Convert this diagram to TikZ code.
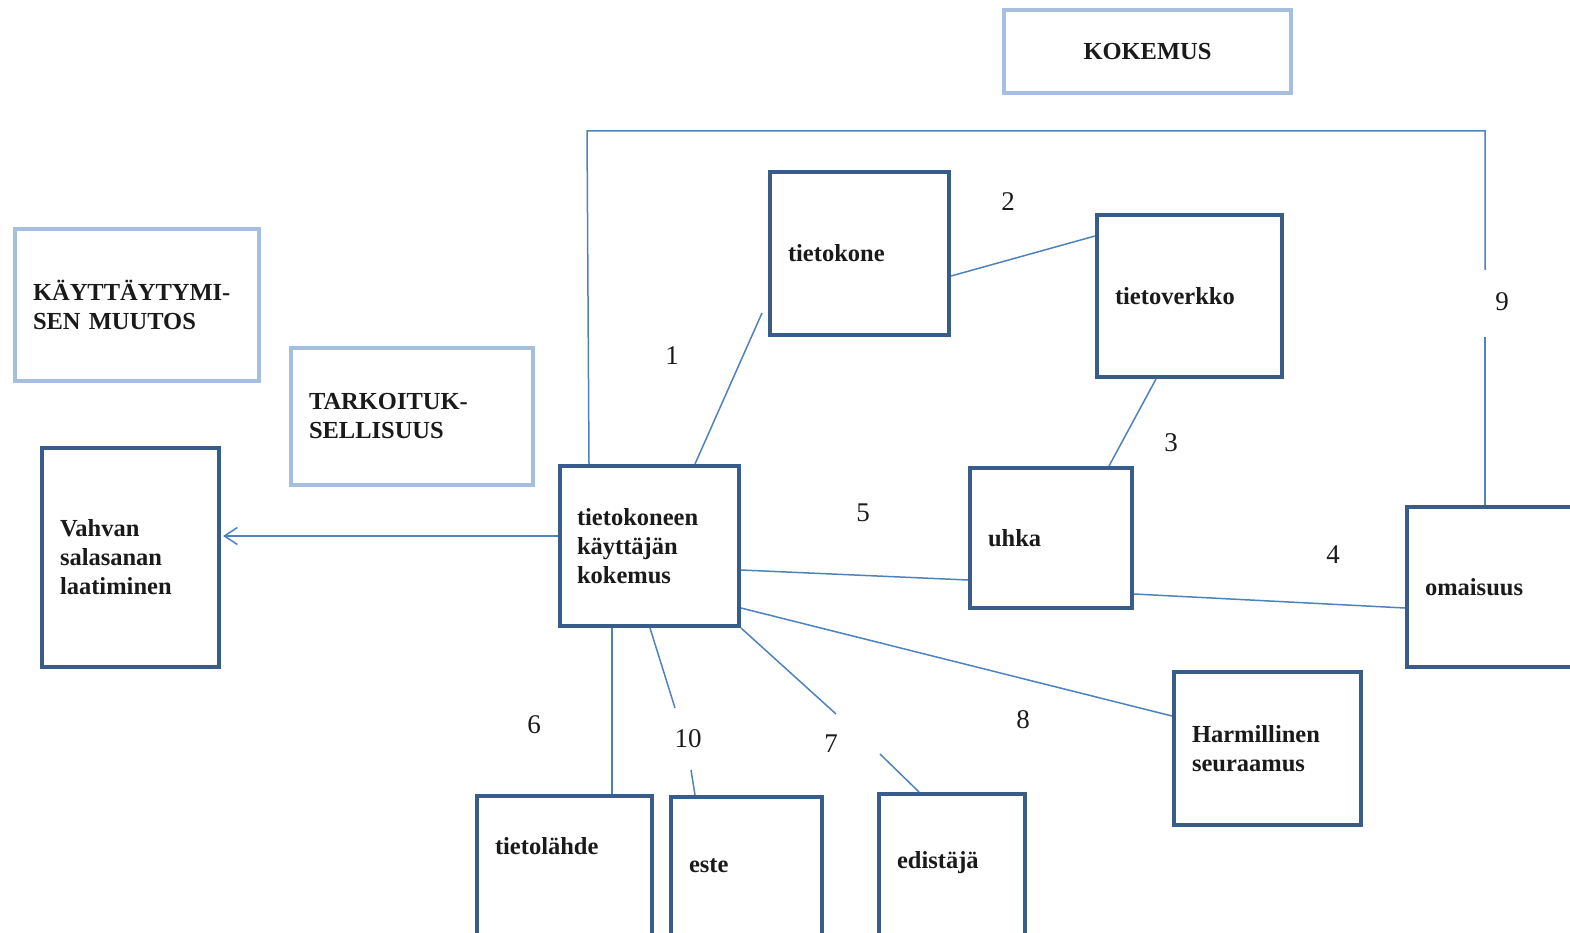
\documentclass[tikz,border=0pt]{standalone}
\usepackage{fontspec}
\setmainfont{Liberation Serif}
\usetikzlibrary{arrows.meta}
\definecolor{boxdark}{HTML}{385D8A}
\definecolor{boxlight}{HTML}{A7BFDE}
\definecolor{linkblue}{HTML}{4F81BD}
\definecolor{ink}{HTML}{1A1A1A}
\begin{document}
\begin{tikzpicture}[x=1pt,y=-1pt,
  darkbox/.style={draw=boxdark, line width=4pt, inner sep=0pt, align=left, text=ink,
    font=\fontsize{24.5}{29}\selectfont\bfseries},
  lightbox/.style={draw=boxlight, line width=4pt, inner sep=0pt, align=left, text=ink,
    font=\fontsize{24.5}{29}\selectfont\bfseries},
  conn/.style={draw=linkblue, line width=1.5pt},
  num/.style={text=ink, inner sep=0pt, font=\fontsize{27}{30}\selectfont}]
\useasboundingbox (0,0) rectangle (1570,933);

% frames of the concepts
\node[lightbox, align=center, minimum width=287pt, minimum height=83pt] (kokemus) at (1147.5,51.5) {KOKEMUS};
\node[lightbox, minimum width=244pt, minimum height=152pt, text width=208pt] (muutos) at (137,305) {KÄYTTÄYTYMI-\\SEN MUUTOS};
\node[lightbox, minimum width=242pt, minimum height=137pt, text width=206pt] (tarkoitus) at (412,416.5) {TARKOITUK-\\SELLISUUS};
\node[darkbox, minimum width=177pt, minimum height=219pt, text width=141pt] (vahvan) at (130.5,557.5) {Vahvan\\salasanan\\laatiminen};
\node[darkbox, minimum width=179pt, minimum height=160pt, text width=145pt] (kayttaja) at (649.5,546) {tietokoneen\\käyttäjän\\kokemus};
\node[darkbox, minimum width=179pt, minimum height=163pt, text width=143pt] (tietokone) at (859.5,253.5) {tietokone};
\node[darkbox, minimum width=185pt, minimum height=162pt, text width=149pt] (tietoverkko) at (1189.5,296) {tietoverkko};
\node[darkbox, minimum width=162pt, minimum height=140pt, text width=126pt] (uhka) at (1051,538) {uhka};
\node[darkbox, minimum width=193pt, minimum height=160pt, text width=157pt] (omaisuus) at (1503.5,587) {omaisuus};
\node[darkbox, minimum width=187pt, minimum height=153pt, text width=151pt] (harm) at (1267.5,748.5) {Harmillinen\\seuraamus};
\node[darkbox, anchor=north, minimum width=175pt, text width=139pt, text height=58pt, text depth=148pt] (lahde) at (564.5,794) {tietolähde};
\node[darkbox, anchor=north, minimum width=151pt, text width=115pt, text height=75pt, text depth=130pt] (este) at (746.5,795) {este};
\node[darkbox, anchor=north, minimum width=146pt, text width=110pt, text height=74pt, text depth=133pt] (edistaja) at (952,792) {edistäjä};

% loose ends of the broken links
\coordinate (c1) at (762,313);
\coordinate (f1) at (587,131);
\coordinate (f2) at (1485,131);
\coordinate (f3) at (1485,270);
\coordinate (f4) at (1485,337);
\coordinate (t1) at (675,708);
\coordinate (t2) at (691,770);
\coordinate (s1) at (836,714);
\coordinate (s2) at (880,754);

% links
\draw[conn] ([xshift=31pt]kayttaja.north west) -- (f1) -- (f2) -- (f3);
\draw[conn] (f4) -- (omaisuus.north -| f4);
\draw[conn] ([xshift=137pt]kayttaja.north west) -- (c1);
\draw[conn] ([yshift=-22.5pt]tietokone.east) -- ([yshift=60pt]tietoverkko.west);
\draw[conn] ([xshift=61pt]tietoverkko.south west) -- ([xshift=141pt]uhka.north west);
\draw[conn] ([yshift=-24pt]kayttaja.east) -- ([yshift=-42pt]uhka.west);
\draw[conn] ([yshift=-56pt]uhka.east) -- ([yshift=-21pt]omaisuus.west);
\draw[conn] ([yshift=-62pt]kayttaja.east) -- ([yshift=32.5pt]harm.west);
\draw[conn] ([xshift=54pt]kayttaja.south west) -- ([xshift=137pt]lahde.north west);
\draw[conn] ([xshift=92pt]kayttaja.south west) -- (t1);
\draw[conn] (t2) -- ([xshift=26pt]este.north west);
\draw[conn] (kayttaja.south east) -- (s1);
\draw[conn] (s2) -- ([xshift=42pt]edistaja.north west);
\draw[conn, -{Straight Barb[length=13pt,width=17pt,line width=1.5pt]}, shorten >=2pt]
  ([yshift=10pt]kayttaja.west) coordinate (a0) -- (a0 -| vahvan.east);

% link numbers
\node[num] (n1) at (672,356) {1};
\node[num] (n2) at (1008,202) {2};
\node[num] (n3) at (1171,443) {3};
\node[num] (n4) at (1333,555) {4};
\node[num] (n5) at (863,513) {5};
\node[num] (n6) at (534,725) {6};
\node[num] (n7) at (831,744) {7};
\node[num] (n8) at (1023,720) {8};
\node[num] (n9) at (1502,302) {9};
\node[num] (n10) at (688,739) {10};
\end{tikzpicture}
\end{document}
